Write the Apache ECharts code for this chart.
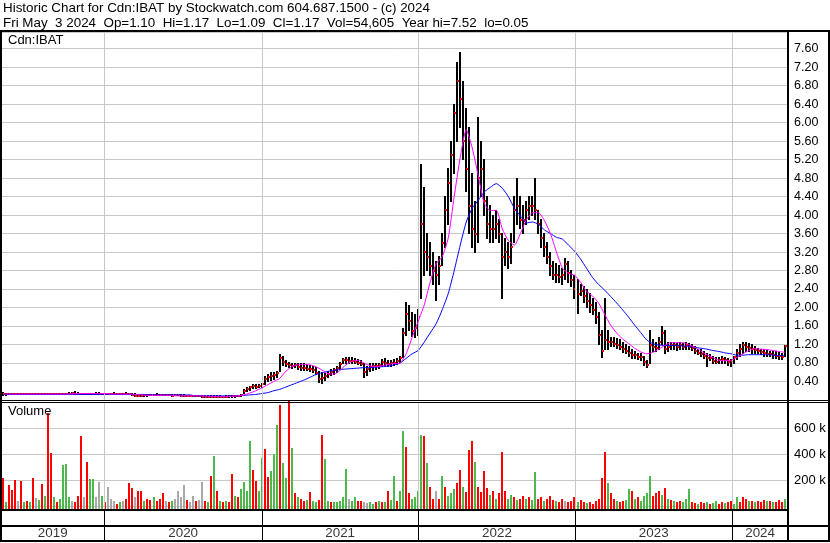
<!DOCTYPE html>
<html><head><meta charset="utf-8">
<script src="https://cdn.jsdelivr.net/npm/echarts@6/dist/echarts.min.js"></script>
<style>html,body{margin:0;padding:0;background:#fff}#c{width:830px;height:543px}</style>
</head><body><div id="c"></div>
<script>
const titleLine1 = 'Historic Chart for Cdn:IBAT by Stockwatch.com 604.687.1500 - (c) 2024';
const titleLine2 = 'Fri May  3 2024  Op=1.10  Hi=1.17  Lo=1.09  Cl=1.17  Vol=54,605  Year hi=7.52  lo=0.05';
const symbolLabel = 'Cdn:IBAT';
const volumeLabel = 'Volume';
const years = [2019, 2020, 2021, 2022, 2023, 2024];
const firstWeek = '2019-05-10';
const axisStart = '2019-05-05';
const axisEnd = '2024-05-10';

const high = [
.16,.15,.15,.14,.15,.14,.14,.15,.14,.14,
.14,.15,.15,.14,.14,.15,.15,.14,.14,.14,
.14,.15,.16,.17,.18,.16,.15,.15,.15,.15,
.15,.16,.16,.15,.15,.15,.15,.16,.15,.15,
.15,.16,.15,.14,.13,.12,.11,.11,.11,.12,
.12,.13,.12,.12,.12,.12,.11,.12,.12,.11,
.11,.10,.10,.10,.10,.10,.09,.09,.09,.09,
.09,.09,.09,.08,.09,.09,.09,.09,.10,.12,
.22,.26,.30,.34,.33,.34,.36,.50,.56,.60,
.60,.62,.98,.95,.86,.82,.80,.80,.79,.78,
.78,.76,.74,.72,.70,.62,.60,.58,.62,.66,
.68,.72,.82,.90,.92,.92,.91,.90,.88,.86,
.80,.72,.78,.80,.80,.80,.88,.90,.86,.86,
.88,.90,.95,1.55,2.10,2.05,1.90,1.85,1.95,5.10,
4.60,3.60,3.40,3.20,3.00,3.10,3.60,4.40,5.00,5.60,
6.40,7.30,7.52,6.90,6.30,5.90,4.90,4.30,6.10,5.60,
5.20,4.40,4.20,4.00,4.10,3.90,3.60,3.50,3.40,3.60,
4.40,4.80,4.40,4.20,4.30,4.40,4.40,4.80,4.10,3.90,
3.60,3.40,3.20,3.00,2.95,2.90,2.85,3.05,3.00,2.80,
2.70,2.60,2.50,2.45,2.40,2.30,2.20,2.10,1.90,1.50,
2.20,1.50,1.35,1.35,1.32,1.30,1.25,1.20,1.15,1.10,
1.05,1.00,1.00,0.95,0.85,1.50,1.30,1.25,1.35,1.60,
1.50,1.25,1.25,1.25,1.22,1.25,1.22,1.25,1.22,1.20,
1.15,1.10,1.10,1.05,1.00,0.98,0.95,0.92,0.92,0.95,
0.92,0.90,0.88,0.95,1.10,1.20,1.25,1.25,1.22,1.20,
1.15,1.12,1.10,1.10,1.08,1.05,1.05,1.05,1.02,1.00,1.17];

const low = [
.10,.10,.11,.11,.11,.11,.11,.11,.11,.11,
.11,.11,.12,.11,.11,.12,.12,.11,.11,.11,
.11,.12,.12,.13,.13,.12,.12,.12,.12,.12,
.12,.12,.12,.12,.12,.12,.12,.13,.12,.12,
.12,.12,.11,.09,.08,.07,.07,.08,.08,.09,
.09,.09,.09,.09,.09,.09,.08,.09,.09,.08,
.08,.07,.07,.07,.07,.07,.06,.06,.06,.06,
.06,.06,.05,.05,.06,.06,.06,.06,.07,.08,
.15,.18,.20,.24,.25,.26,.28,.34,.40,.42,
.44,.48,.62,.74,.72,.70,.68,.70,.67,.64,
.64,.63,.62,.60,.55,.38,.36,.42,.48,.52,
.55,.60,.66,.78,.80,.80,.80,.78,.77,.74,
.48,.52,.62,.64,.65,.68,.72,.74,.72,.72,
.74,.76,.82,.92,1.40,1.50,1.38,1.35,1.40,2.20,
2.70,2.80,2.70,2.50,2.15,2.50,2.90,3.30,3.80,4.30,
4.90,5.60,5.90,5.20,4.50,3.60,3.30,3.20,3.40,4.40,
4.00,3.50,3.40,3.40,3.50,3.40,2.20,2.90,2.85,2.95,
3.40,3.80,3.70,3.60,3.80,3.90,4.00,3.90,3.60,3.30,
3.10,2.95,2.70,2.60,2.55,2.55,2.50,2.60,2.55,2.45,
2.20,1.88,2.25,2.10,2.00,1.90,1.85,1.65,1.20,0.92,
1.10,1.10,1.15,1.15,1.12,1.10,1.02,1.00,0.95,0.90,
0.90,0.88,0.85,0.75,0.70,0.80,1.05,1.05,1.10,1.20,
1.00,1.05,1.10,1.10,1.08,1.10,1.10,1.10,1.10,1.08,
1.00,0.98,0.95,0.90,0.72,0.85,0.80,0.78,0.78,0.80,
0.80,0.75,0.72,0.80,0.88,0.95,1.00,1.05,1.05,1.00,
1.00,1.00,0.98,0.95,0.95,0.95,0.90,0.90,0.88,0.88,0.95];

const close = [
.12,.12,.13,.12,.13,.12,.12,.13,.12,.12,
.12,.13,.13,.12,.12,.13,.13,.12,.12,.12,
.12,.13,.14,.15,.14,.13,.13,.13,.13,.13,
.13,.14,.13,.13,.13,.13,.13,.14,.13,.13,
.13,.13,.12,.10,.09,.09,.09,.10,.10,.10,
.11,.11,.10,.10,.10,.10,.09,.10,.10,.09,
.09,.08,.08,.08,.08,.08,.07,.07,.07,.07,
.07,.07,.07,.07,.07,.08,.08,.08,.09,.11,
.20,.24,.28,.30,.29,.31,.34,.46,.50,.52,
.55,.58,.90,.82,.78,.75,.74,.75,.72,.70,
.70,.68,.66,.64,.58,.45,.48,.52,.56,.60,
.64,.70,.78,.86,.86,.84,.85,.82,.80,.78,
.60,.66,.72,.74,.74,.76,.82,.80,.78,.80,
.80,.84,.90,1.45,1.85,1.70,1.50,1.55,1.80,3.80,
3.20,3.10,2.90,2.80,2.70,2.90,3.40,4.10,4.70,5.30,
6.20,6.90,6.50,5.60,5.00,4.20,3.70,3.60,4.80,5.00,
4.30,3.80,3.70,3.70,3.80,3.60,3.10,3.20,3.10,3.30,
4.10,4.20,3.90,3.90,4.10,4.20,4.20,4.10,3.80,3.50,
3.30,3.10,2.90,2.70,2.70,2.65,2.70,2.95,2.75,2.60,
2.40,2.30,2.35,2.25,2.15,2.05,1.95,1.80,1.40,1.05,
1.30,1.25,1.25,1.22,1.20,1.15,1.10,1.05,1.02,0.98,
0.98,0.94,0.92,0.82,0.76,1.20,1.15,1.12,1.25,1.45,
1.10,1.15,1.20,1.18,1.15,1.20,1.15,1.20,1.15,1.12,
1.05,1.02,1.00,0.95,0.90,0.90,0.85,0.82,0.86,0.88,
0.86,0.82,0.84,0.92,1.02,1.10,1.18,1.15,1.12,1.10,
1.08,1.05,1.04,1.02,1.00,1.00,0.98,0.96,0.95,0.94,1.17];

// weekly volume, thousands of shares
const volume = [
220,35,164,125,202,45,197,30,40,30,
218,61,50,171,80,717,410,72,30,60,
320,325,70,40,30,80,540,70,343,210,
210,70,190,80,30,148,60,40,20,30,
40,60,182,140,70,120,120,40,60,50,
70,40,60,100,40,30,40,60,120,70,
165,50,30,80,40,50,190,40,30,230,
385,120,40,30,40,30,250,80,75,130,
190,120,503,280,195,120,370,440,228,275,
400,625,780,335,220,805,450,100,70,60,
40,50,110,40,35,50,547,364,40,35,
30,35,40,70,287,60,45,70,40,45,
30,25,30,20,30,40,35,30,115,50,
230,40,120,580,458,100,60,70,120,547,
541,330,150,60,117,60,235,150,80,100,
130,180,280,150,110,433,503,340,150,110,
275,140,90,120,60,100,415,120,60,90,
70,50,60,80,60,70,50,265,60,70,
40,60,80,50,40,30,60,40,30,40,
70,30,50,30,25,30,20,40,60,215,
420,180,100,60,40,30,40,50,130,120,
60,70,40,80,100,230,80,100,120,90,
140,60,50,40,30,40,30,60,130,30,
25,20,35,25,30,20,25,40,20,30,
25,30,40,20,70,35,74,60,40,45,
30,40,35,50,40,45,30,35,50,30,55];

// r = down (red), g = up (green), n = unchanged (grey)
const volDirection = (
'rgrrrnrgrg' + 'rngrgrrgrg' + 'gggnrrrnrg' + 'gnngrnnnrg' + 'nrrrnrrgrr' +
'grrrnrgnnn' + 'nrnnrnnrgr' + 'grgrgrrgrg' + 'gggrrggrrg' + 'ggrggrgrgr' +
'rgrggrrggr' + 'gggggnggrr' + 'nnggrgrgrg' + 'grggrrgggg' + 'rgrrnrgrgg' +
'grrgrrrgrr' + 'rrgrgrrrgg' + 'rgrrgrggrr' + 'grrrgrrnrr' + 'rgrrgrrrrr' +
'rgrrgrrggr' + 'grggggrrrg' + 'rgrgrrgggr' + 'rgrrgrggrr' + 'grrggrrrgr' +
'grrrgrgrrrg').split('');

// moving averages, one reading every second week
const maShort = [
.13,.13,.13,.13,.13,.13,.13,.13,.13,.13,
.13,.13,.14,.14,.14,.14,.14,.14,.13,.13,
.13,.13,.12,.11,.10,.10,.10,.10,.10,.09,
.09,.09,.09,.09,.08,.08,.07,.07,.08,.09,
.11,.15,.20,.26,.33,.40,.47,.62,.72,.76,
.77,.76,.72,.65,.57,.56,.64,.76,.84,.86,
.80,.74,.72,.74,.77,.79,.80,1.00,1.35,1.70,
2.05,2.55,2.95,3.10,3.50,4.40,5.25,5.85,5.45,4.85,
4.25,4.10,4.10,3.70,3.45,3.35,3.60,3.90,4.05,4.05,
3.88,3.60,3.20,2.85,2.74,2.70,2.55,2.35,2.25,2.10,
1.86,1.62,1.45,1.32,1.22,1.12,1.04,1.00,1.03,1.10,
1.18,1.24,1.24,1.24,1.20,1.14,1.06,0.98,0.92,0.86,
0.85,0.86,0.92,1.00,1.07,1.11,1.10,1.09,1.07,1.05,
1.03];
const maLong = [
.12,.12,.12,.12,.12,.12,.12,.12,.12,.12,
.12,.12,.12,.12,.12,.12,.12,.12,.12,.12,
.12,.12,.12,.12,.12,.11,.11,.11,.11,.11,
.11,.11,.09,.09,.09,.09,.09,.09,.09,.09,
.10,.11,.12,.14,.16,.20,.23,.28,.33,.38,
.43,.49,.55,.59,.62,.64,.66,.67,.68,.69,
.70,.70,.71,.72,.73,.76,.80,.90,1.00,1.07,
1.25,1.45,1.65,1.95,2.30,2.80,3.35,3.85,4.15,4.32,
4.50,4.60,4.68,4.58,4.40,4.15,3.98,3.83,3.85,3.80,
3.68,3.60,3.52,3.48,3.35,3.22,3.05,2.85,2.65,2.50,
2.38,2.24,2.10,1.95,1.79,1.62,1.46,1.30,1.22,1.19,
1.18,1.18,1.18,1.17,1.16,1.14,1.12,1.10,1.07,1.05,
1.02,1.00,0.97,0.97,0.98,0.98,0.98,0.98,0.97,0.96,
0.96];

const priceTicks = {min: 0, max: 7.96, step: 0.4};

const DAY = 86400000;
const t0 = Date.parse(firstWeek);
const weekDates = high.map((_, i) => t0 + i * 7 * DAY);
const maDates = maShort.map((_, k) => weekDates[2 * k]);
const xMin = Date.parse(axisStart), xMax = Date.parse(axisEnd);
const yearStarts = years.slice(1).map(y => Date.UTC(y, 0, 1));
const yearMids = years.map(y => {
  const a = Math.max(xMin, Date.UTC(y, 0, 1)), b = Math.min(xMax, Date.UTC(y + 1, 0, 1));
  return [(a + b) / 2, 24.5, String(y)];
});
const volColors = {r: '#ff0000', g: '#4cb84c', n: '#a8a8a8'};
const FONT = '"Liberation Sans", Arial, sans-serif';

const chart = echarts.init(document.getElementById('c'));
const xAxisBase = {type: 'time', min: xMin, max: xMax, axisLine: {show: false}, axisTick: {show: false},
  axisLabel: {show: false}, splitLine: {show: false}};
const vGrid = (idx, color) => ({
  type: 'scatter', xAxisIndex: idx, yAxisIndex: idx, data: [], silent: true, z: 1,
  markLine: {silent: true, symbol: ['none', 'none'], label: {show: false}, animation: false,
    lineStyle: {color: color, type: 'solid', width: 1}, emphasis: {disabled: true},
    data: yearStarts.map(t => ({xAxis: t}))}
});

chart.setOption({
  animation: false,
  backgroundColor: '#fff',
  grid: [
    {left: 1, right: 42, top: 32, height: 368},
    {left: 1, right: 42, top: 402, height: 107},
    {left: 1, right: 42, top: 509, height: 32}
  ],
  xAxis: [Object.assign({gridIndex: 0}, xAxisBase), Object.assign({gridIndex: 1}, xAxisBase), Object.assign({gridIndex: 2}, xAxisBase)],
  yAxis: [
    {gridIndex: 0, type: 'value', position: 'right', min: priceTicks.min, max: priceTicks.max, interval: priceTicks.step,
      axisLine: {show: false}, axisTick: {show: false},
      axisLabel: {margin: 6, color: '#000', fontFamily: FONT, fontSize: 12.5,
        formatter: v => (v > 0.01 && v < 7.7) ? v.toFixed(2) : ''},
      splitLine: {lineStyle: {color: '#c8c8c8', width: 1}}},
    {gridIndex: 1, type: 'value', position: 'right', min: -20, max: 800,
      axisLine: {show: false}, axisTick: {show: false},
      axisLabel: {margin: 6, color: '#000', fontFamily: FONT, fontSize: 13,
        formatter: v => (v > 1 && v < 790) ? v + ' k' : ''},
      splitLine: {lineStyle: {color: '#c8c8c8', width: 1}}},
    {gridIndex: 2, type: 'value', min: 0, max: 32, inverse: true, show: false}
  ],
  series: [
    vGrid(0, '#c8c8c8'),
    vGrid(1, '#c8c8c8'),
    vGrid(2, '#000'),
    {
      type: 'custom', xAxisIndex: 0, yAxisIndex: 0, z: 3, silent: true,
      data: weekDates.map((d, i) => [d, high[i], low[i], close[i]]),
      encode: {x: 0, y: [1, 2, 3]},
      renderItem(params, api) {
        const x = api.value(0);
        const pH = api.coord([x, api.value(1)]);
        const pL = api.coord([x, api.value(2)]);
        const pC = api.coord([x, api.value(3)]);
        const cx = Math.round(pH[0]);
        const top = Math.floor(pH[1]);
        const h = Math.max(2, Math.ceil(pL[1]) - top);
        return {type: 'group', children: [
          {type: 'rect', shape: {x: cx - 1, y: top, width: 2, height: h}, style: {fill: '#000'}},
          {type: 'rect', shape: {x: cx, y: Math.round(pC[1]) - 1, width: 2, height: 2}, style: {fill: '#ff0000'}}
        ]};
      }
    },
    {type: 'line', xAxisIndex: 0, yAxisIndex: 0, z: 4, silent: true, showSymbol: false, symbol: 'none',
      smooth: 0.2, data: maDates.map((d, k) => [d, maLong[k]]), lineStyle: {color: '#0000ff', width: 1}},
    {type: 'line', xAxisIndex: 0, yAxisIndex: 0, z: 5, silent: true, showSymbol: false, symbol: 'none',
      smooth: 0.2, data: maDates.map((d, k) => [d, maShort[k]]), lineStyle: {color: '#ff00ff', width: 1}},
    {
      type: 'custom', xAxisIndex: 1, yAxisIndex: 1, z: 3, silent: true,
      data: weekDates.map((d, i) => [d, volume[i]]),
      encode: {x: 0, y: 1},
      renderItem(params, api) {
        const p = api.coord([api.value(0), api.value(1)]);
        const bottom = params.coordSys.y + params.coordSys.height;
        const cx = Math.round(p[0]);
        const top = Math.round(p[1]);
        return {type: 'rect', shape: {x: cx - 1, y: top, width: 2, height: bottom - top},
          style: {fill: volColors[volDirection[params.dataIndex]]}};
      }
    },
    {
      type: 'scatter', xAxisIndex: 2, yAxisIndex: 2, symbolSize: 0, silent: true, z: 6,
      data: yearMids,
      label: {show: true, position: 'inside', formatter: p => p.value[2], color: '#000',
        fontFamily: FONT, fontSize: 13.4}
    }
  ],
  graphic: [
    {type: 'text', left: 3, top: 2, z: 10, style: {text: titleLine1, fill: '#000', font: '13.4px ' + FONT}},
    {type: 'text', left: 3, top: 17, z: 10, style: {text: titleLine2, fill: '#000', font: '13.4px ' + FONT}},
    {type: 'text', left: 8, top: 34, z: 10, style: {text: symbolLabel, fill: '#000', font: '13px ' + FONT}},
    {type: 'text', left: 8, top: 405, z: 10, style: {text: volumeLabel, fill: '#000', font: '13px ' + FONT}},
    {type: 'rect', z: 10, shape: {x: 0, y: 30, width: 830, height: 2}, style: {fill: '#000'}},
    {type: 'rect', z: 10, shape: {x: 0, y: 30, width: 2, height: 512}, style: {fill: '#000'}},
    {type: 'rect', z: 10, shape: {x: 828, y: 30, width: 2, height: 512}, style: {fill: '#000'}},
    {type: 'rect', z: 10, shape: {x: 787, y: 30, width: 2, height: 512}, style: {fill: '#000'}},
    {type: 'rect', z: 10, shape: {x: 0, y: 400, width: 830, height: 1}, style: {fill: '#000'}},
    {type: 'rect', z: 10, shape: {x: 0, y: 402, width: 830, height: 1}, style: {fill: '#000'}},
    {type: 'rect', z: 10, shape: {x: 0, y: 509, width: 789, height: 2}, style: {fill: '#000'}},
    {type: 'rect', z: 10, shape: {x: 0, y: 525, width: 830, height: 2}, style: {fill: '#000'}},
    {type: 'rect', z: 10, shape: {x: 0, y: 540, width: 830, height: 2}, style: {fill: '#000'}}
  ]
});
</script></body></html>
